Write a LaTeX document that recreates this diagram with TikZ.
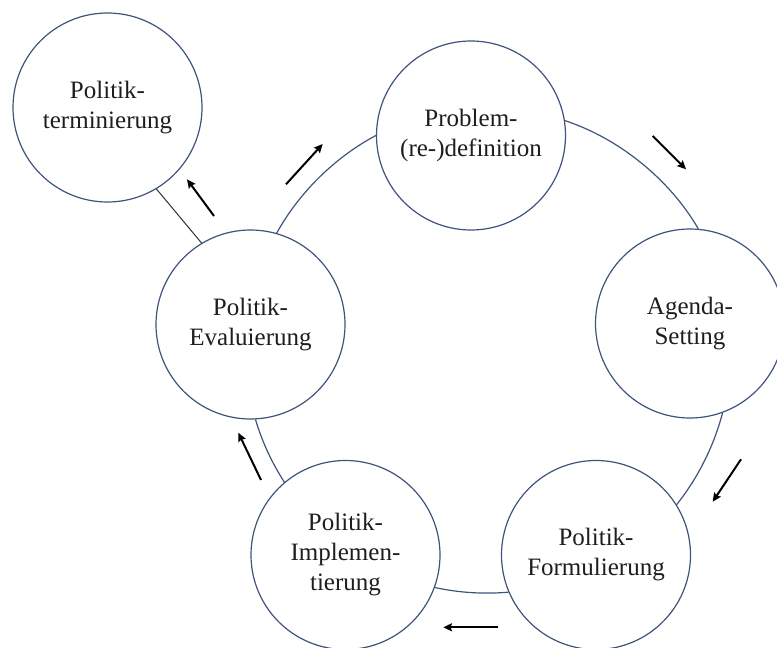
\documentclass[tikz,border=0pt]{standalone}
\usepackage{fontspec}
\setmainfont{Liberation Serif}
\usetikzlibrary{arrows.meta}

\definecolor{ringblue}{RGB}{62,84,122}
\definecolor{textdark}{RGB}{30,30,30}
\definecolor{linkgray}{RGB}{50,50,50}

\tikzset{
  phase/.style={circle, draw=ringblue, line width=0.9pt, fill=white,
    minimum size=141.75pt, inner sep=0pt, align=center, text=textdark,
    font=\fontsize{18.75pt}{22.5pt}\selectfont},
  ring/.style={draw=ringblue, line width=0.9pt, looseness=0.85},
  exitline/.style={draw=linkgray, line width=0.75pt},
  flow/.style={line width=1.5pt, -{Stealth[length=6.5pt,width=6pt,inset=1pt]}}
}

\begin{document}
\begin{tikzpicture}[x=0.75pt, y=0.75pt]
  \useasboundingbox (0,0) rectangle (777,647);

  % phases of the policy cycle
  \node[phase] (term) at (107.5,539.5) {Politik-\\terminierung};
  \node[phase] (eval) at (250.5,322.5) {Politik-\\Evaluierung};
  \node[phase] (prob) at (471,511.5) {Problem-\\(re-)definition};
  \node[phase] (agen) at (690,323.5) {Agenda-\\Setting};
  \node[phase] (form) at (596,92) {Politik-\\Formulierung};
  \node[phase] (impl) at (345.5,92) {Politik-\\Implemen-\\tierung};

  % ring connecting the cycle
  \draw[ring] (eval.74)   to[bend left=16.6] (prob.180);
  \draw[ring] (prob.9)    to[bend left=20.8] (agen.85);
  \draw[ring] (agen.-70.5) to[bend left=12]  (form.32.5);
  \draw[ring] (form.-157) to[bend left=8.7]  (impl.-20);
  \draw[ring] (impl.130)  to[bend left=8.2]  (eval.-87);

  % exit from the cycle
  \draw[exitline] (term.-59) -- (eval.121);

  % direction arrows
  \coordinate (a1) at (214,431);   \coordinate (b1) at (187,467.7);
  \coordinate (a2) at (286,462.7); \coordinate (b2) at (322.7,503);
  \coordinate (a3) at (652.7,511); \coordinate (b3) at (686,477.7);
  \coordinate (a4) at (741,187.7); \coordinate (b4) at (712.7,145.3);
  \coordinate (a5) at (498.3,19.7); \coordinate (b5) at (443.3,19.7);
  \coordinate (a6) at (261,167);   \coordinate (b6) at (238.3,214.3);

  \draw[flow] (a1) -- (b1);
  \draw[flow] (a2) -- (b2);
  \draw[flow] (a3) -- (b3);
  \draw[flow] (a4) -- (b4);
  \draw[flow] (a5) -- (b5);
  \draw[flow] (a6) -- (b6);
\end{tikzpicture}
\end{document}
